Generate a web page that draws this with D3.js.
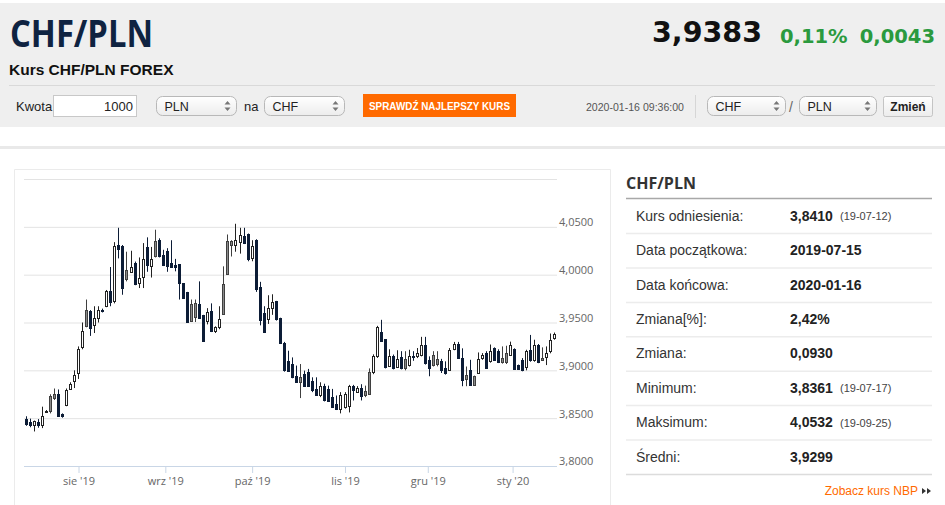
<!DOCTYPE html>
<html lang="pl">
<head>
<meta charset="utf-8">
<title>Kurs CHF/PLN FOREX</title>
<script src="https://cdn.jsdelivr.net/npm/d3@7"></script>
<style>
  html, body { margin: 0; padding: 0; background: #fff; }
  svg { display: block; }
</style>
</head>
<body>
<div id="chart-area"></div>
<script>
// DANE: notowania dzienne CHF/PLN
const START = "2019-07-15"
const END = "2020-01-16"
const HOLIDAYS = ["2019-12-25", "2020-01-01"]

const OPEN = [3.849, 3.8455, 3.843, 3.8465, 3.843, 3.8565, 3.873, 3.875, 3.875, 3.8545,
  3.8635, 3.880, 3.889, 3.897, 3.924, 3.963, 3.962, 3.947, 3.955, 3.9635,
  3.967, 3.983, 3.972, 4.031, 4.030, 4.005, 4.003, 4.012, 3.9915, 3.998,
  4.029, 4.0087, 4.035, 4.036, 4.021, 4.025, 4.012, 4.0105, 4.011, 3.991,
  3.982, 3.969, 3.970, 3.9695, 3.958, 3.952, 3.962, 3.941, 3.945, 3.990,
  4.035, 4.035, 4.0315, 4.034, 4.040, 4.042, 4.017, 4.036, 3.987, 3.960,
  3.9535, 3.9656, 3.9726, 3.955, 3.929, 3.910, 3.9066, 3.8945, 3.8927, 3.896,
  3.898, 3.889, 3.8806, 3.8737, 3.884, 3.8806, 3.872, 3.865, 3.860, 3.8616,
  3.863, 3.884, 3.877, 3.882, 3.878, 3.898, 3.898, 3.915, 3.9396, 3.9326,
  3.905, 3.9145, 3.904, 3.9135, 3.912, 3.906, 3.9152, 3.9146, 3.9163, 3.9267,
  3.911, 3.9163, 3.912, 3.9094, 3.9024, 3.9007, 3.922, 3.928, 3.913, 3.8955,
  3.900, 3.8938, 3.897, 3.9128, 3.918, 3.9094, 3.9232, 3.920, 3.9128, 3.918,
  3.9163, 3.9222, 3.9055, 3.911, 3.904, 3.9215, 3.911, 3.9267, 3.9125, 3.914,
  3.9198, 3.9337]
const HIGH = [3.852, 3.8495, 3.8475, 3.849, 3.862, 3.8585, 3.875, 3.881, 3.880, 3.855,
  3.881, 3.8875, 3.900, 3.925, 3.950, 3.974, 3.963, 3.967, 3.967, 3.9645,
  3.984, 4.008, 4.034, 4.049, 4.031, 4.024, 4.025, 4.0137, 4.018, 4.033,
  4.039, 4.029, 4.047, 4.038, 4.026, 4.0277, 4.036, 4.0165, 4.011, 3.991,
  3.982, 3.974, 3.974, 3.993, 3.958, 3.965, 3.970, 3.946, 3.967, 4.0087,
  4.042, 4.036, 4.0532, 4.049, 4.049, 4.043, 4.036, 4.037, 3.9925, 3.967,
  3.9785, 3.9795, 3.9726, 3.955, 3.9297, 3.9205, 3.9135, 3.905, 3.9066, 3.8997,
  3.9015, 3.8927, 3.8927, 3.8875, 3.886, 3.884, 3.8806, 3.8737, 3.8772, 3.8772,
  3.8848, 3.8848, 3.8835, 3.8855, 3.884, 3.902, 3.9167, 3.9465, 3.9528, 3.9326,
  3.922, 3.9165, 3.921, 3.920, 3.920, 3.9215, 3.920, 3.9233, 3.935, 3.935,
  3.9146, 3.920, 3.920, 3.912, 3.9094, 3.9233, 3.9297, 3.9297, 3.923, 3.904,
  3.911, 3.8945, 3.9187, 3.918, 3.920, 3.927, 3.924, 3.922, 3.925, 3.9257,
  3.930, 3.923, 3.906, 3.9128, 3.9215, 3.937, 3.932, 3.9275, 3.924, 3.925,
  3.9385, 3.9395]
const LOW = [3.842, 3.8405, 3.8361, 3.840, 3.8396, 3.8555, 3.855, 3.869, 3.8517, 3.8505,
  3.8625, 3.8795, 3.8815, 3.891, 3.922, 3.945, 3.936, 3.939, 3.950, 3.9605,
  3.966, 3.967, 3.970, 4.017, 3.979, 3.993, 4.002, 3.989, 3.986, 3.986,
  4.003, 3.997, 4.018, 4.018, 4.009, 4.003, 4.007, 4.0035, 3.974, 3.975,
  3.951, 3.9505, 3.9505, 3.954, 3.930, 3.948, 3.940, 3.939, 3.943, 3.958,
  4.000, 4.019, 4.024, 4.022, 4.032, 4.014, 4.014, 3.982, 3.947, 3.939,
  3.9485, 3.958, 3.952, 3.9275, 3.8986, 3.8986, 3.8917, 3.887, 3.871, 3.883,
  3.883, 3.8772, 3.8737, 3.872, 3.8675, 3.867, 3.8606, 3.8585, 3.855, 3.860,
  3.856, 3.8685, 3.8765, 3.8685, 3.872, 3.8746, 3.896, 3.913, 3.930, 3.902,
  3.904, 3.901, 3.9035, 3.901, 3.900, 3.904, 3.910, 3.9128, 3.9146, 3.906,
  3.8938, 3.904, 3.9042, 3.8972, 3.8955, 3.900, 3.921, 3.912, 3.8834, 3.8834,
  3.884, 3.8845, 3.8963, 3.911, 3.9014, 3.908, 3.910, 3.9076, 3.907, 3.9066,
  3.915, 3.9007, 3.9005, 3.899, 3.900, 3.909, 3.909, 3.9075, 3.910, 3.9055,
  3.9178, 3.932]
const CLOSE = [3.844, 3.843, 3.847, 3.843, 3.852, 3.858, 3.858, 3.871, 3.8525, 3.852,
  3.8795, 3.886, 3.8955, 3.9225, 3.941, 3.946, 3.944, 3.955, 3.963, 3.9615,
  3.983, 3.971, 4.0295, 4.027, 3.986, 3.995, 4.008, 3.990, 3.9965, 4.016,
  4.010, 4.016, 4.020, 4.019, 4.010, 4.009, 4.0085, 4.008, 3.991, 3.976,
  3.951, 3.952, 3.956, 3.955, 3.931, 3.961, 3.941, 3.945, 3.954, 3.959,
  4.0007, 4.0305, 4.036, 4.041, 4.033, 4.016, 4.030, 3.985, 3.953, 3.9396,
  3.9656, 3.971, 3.9535, 3.9285, 3.900, 3.8995, 3.8927, 3.8875, 3.8875, 3.884,
  3.8838, 3.879, 3.8744, 3.884, 3.8685, 3.868, 3.8616, 3.860, 3.8737, 3.8755,
  3.884, 3.879, 3.882, 3.873, 3.8737, 3.8754, 3.915, 3.945, 3.931, 3.903,
  3.915, 3.902, 3.912, 3.9024, 3.9025, 3.9146, 3.9143, 3.918, 3.9267, 3.9076,
  3.9024, 3.906, 3.907, 3.9007, 3.897, 3.9215, 3.928, 3.913, 3.890, 3.8905,
  3.885, 3.885, 3.9118, 3.9163, 3.9024, 3.920, 3.911, 3.909, 3.909, 3.9092,
  3.9267, 3.9014, 3.901, 3.9005, 3.920, 3.911, 3.9267, 3.9083, 3.911, 3.918,
  3.932, 3.9383]

const Y_TICKS = [3.80, 3.85, 3.90, 3.95, 4.00, 4.05, 4.10]
const MONTH_LABELS = ["sie '19", "wrz '19", "paź '19", "lis '19", "gru '19", "sty '20"]

const STAT_LABELS = ["Kurs odniesienia:", "Data początkowa:", "Data końcowa:", "Zmiana[%]:",
  "Zmiana:", "Minimum:", "Maksimum:", "Średni:"]
const STAT_VALUES = ["3,8410", "2019-07-15", "2020-01-16", "2,42%", "0,0930", "3,8361", "4,0532", "3,9299"]
const STAT_DATES = ["(19-07-12)", "", "", "", "", "(19-07-17)", "(19-09-25)", ""]

// WYMIARY
const W = 945, H = 505
const PLOT = { LEFT: 24, RIGHT: 557, TOP: 179, BOTTOM: 466 }
const FONT = "Arial, 'Liberation Sans', sans-serif"
const OPEN_SANS = "'Open Sans', sans-serif"

const svg = d3.select("#chart-area").append("svg")
  .attr("width", W)
  .attr("height", H)
  .style("font-family", FONT)

const defs = svg.append("defs")
const grad = defs.append("linearGradient").attr("id", "btn").attr("x1", 0).attr("y1", 0).attr("x2", 0).attr("y2", 1)
grad.append("stop").attr("offset", "0%").attr("stop-color", "#ffffff")
grad.append("stop").attr("offset", "100%").attr("stop-color", "#ececec")

// NAGŁÓWEK
svg.append("rect").attr("x", 0).attr("y", 3).attr("width", W).attr("height", 124).attr("fill", "#efefef")

svg.append("text")
  .attr("x", 10).attr("y", 47)
  .attr("font-family", OPEN_SANS).attr("font-weight", 700).attr("font-size", 38)
  .attr("textLength", 143).attr("lengthAdjust", "spacingAndGlyphs")
  .attr("fill", "#0f2341")
  .text("CHF/PLN")

svg.append("text")
  .attr("x", 9).attr("y", 75)
  .attr("font-weight", "bold").attr("font-size", 15.5)
  .attr("fill", "#111")
  .text("Kurs CHF/PLN FOREX")

svg.append("text")
  .attr("x", 762).attr("y", 42).attr("text-anchor", "end")
  .attr("font-family", "'DejaVu Sans', sans-serif").attr("font-weight", "bold").attr("font-size", 28.5)
  .attr("fill", "#111")
  .text("3,9383")

svg.append("text")
  .attr("x", 780).attr("y", 43)
  .attr("font-family", "'DejaVu Sans', sans-serif").attr("font-weight", "bold").attr("font-size", 19.5)
  .attr("fill", "#2b9a3e")
  .text("0,11%")

svg.append("text")
  .attr("x", 935).attr("y", 43).attr("text-anchor", "end")
  .attr("font-family", "'DejaVu Sans', sans-serif").attr("font-weight", "bold").attr("font-size", 19.5)
  .attr("fill", "#2b9a3e")
  .text("0,0043")

svg.append("line")
  .attr("x1", 9).attr("x2", 935).attr("y1", 85.5).attr("y2", 85.5)
  .attr("stroke", "#d9d9d9")

// PASEK FORMULARZA
svg.append("text").attr("x", 16).attr("y", 111).attr("font-size", 13).attr("fill", "#222").text("Kwota")
svg.append("rect")
  .attr("x", 53.5).attr("y", 95.5).attr("width", 83).attr("height", 21)
  .attr("fill", "#fff").attr("stroke", "#c8c8c8")
svg.append("text").attr("x", 133).attr("y", 111).attr("text-anchor", "end")
  .attr("font-size", 13).attr("fill", "#222").text("1000")

const select = (x, w, label) => {
  const g = svg.append("g").attr("transform", `translate(${x}, 96.5)`)
  g.append("rect").attr("width", w).attr("height", 19).attr("rx", 6)
    .attr("fill", "url(#btn)").attr("stroke", "#b8b8b8")
  g.append("text").attr("x", 8).attr("y", 14).attr("font-size", 12.5).attr("fill", "#222").text(label)
  g.append("path").attr("d", `M${w - 12},8 l3,-3.5 l3,3.5 Z M${w - 12},11 l3,3.5 l3,-3.5 Z`)
    .attr("fill", "#777")
}
select(156.5, 80, "PLN")
svg.append("text").attr("x", 244).attr("y", 111).attr("font-size", 13).attr("fill", "#222").text("na")
select(264.5, 80, "CHF")

svg.append("rect").attr("x", 363).attr("y", 94).attr("width", 153).attr("height", 23).attr("fill", "#ff6a00")
svg.append("text")
  .attr("x", 439.5).attr("y", 109.5).attr("text-anchor", "middle")
  .attr("font-weight", "bold").attr("font-size", 11)
  .attr("textLength", 141).attr("lengthAdjust", "spacingAndGlyphs")
  .attr("fill", "#fff")
  .text("SPRAWDŹ NAJLEPSZY KURS")

svg.append("text")
  .attr("x", 586).attr("y", 110.5)
  .attr("font-size", 11).attr("textLength", 98).attr("lengthAdjust", "spacingAndGlyphs")
  .attr("fill", "#555")
  .text("2020-01-16 09:36:00")
svg.append("line").attr("x1", 695.5).attr("x2", 695.5).attr("y1", 95).attr("y2", 118).attr("stroke", "#d6d6d6")

select(707.5, 78, "CHF")
svg.append("text").attr("x", 789).attr("y", 112).attr("font-size", 14).attr("fill", "#666").text("/")
select(799.5, 77, "PLN")

svg.append("rect")
  .attr("x", 883.5).attr("y", 96.5).attr("width", 49).attr("height", 20).attr("rx", 2)
  .attr("fill", "url(#btn)").attr("stroke", "#c4c4c4")
svg.append("text").attr("x", 908).attr("y", 111).attr("text-anchor", "middle")
  .attr("font-weight", "bold").attr("font-size", 12).attr("fill", "#222").text("Zmień")

// KARTA Z WYKRESEM
svg.append("rect").attr("x", 0).attr("y", 146).attr("width", W).attr("height", 3).attr("fill", "#e9e9e9")
svg.append("path")
  .attr("d", `M14.5,${H} V169.5 H610.5 V${H}`)
  .attr("fill", "none").attr("stroke", "#ebebeb")

// SKALE
const parse = d3.utcParse("%Y-%m-%d")
const fmt = d3.utcFormat("%Y-%m-%d")
const days = d3.utcDays(parse(START), d3.utcDay.offset(parse(END), 1))
  .filter(d => d.getUTCDay() % 6 !== 0 && !HOLIDAYS.includes(fmt(d)))

const data = days.map((d, i) => ({
  i, date: d,
  open: OPEN[i], high: HIGH[i], low: LOW[i], close: CLOSE[i],
  prev: i > 0 ? CLOSE[i - 1] : null
}))

const x = d3.scaleLinear()
  .domain([-0.5, days.length - 0.5])
  .range([PLOT.LEFT, PLOT.RIGHT])

const y = d3.scaleLinear()
  .domain([Y_TICKS[0], Y_TICKS[Y_TICKS.length - 1]])
  .range([PLOT.BOTTOM, PLOT.TOP])

// tick na początek miesiąca; gdy 1. dzień nie jest sesją, pół świecy wcześniej
const monthIdx = d3.utcMonths(d3.utcMonth.ceil(parse(START)), parse(END)).map(m => {
  const k = days.findIndex(d => d >= m)
  return +days[k] === +m ? k : k - 0.5
})

// SIATKA I OŚ Y (po prawej)
const yAxis = d3.axisRight(y)
  .tickValues(Y_TICKS)
  .tickSize(-(PLOT.RIGHT - PLOT.LEFT))
  .tickPadding(2)
  .tickFormat(v => v === Y_TICKS[Y_TICKS.length - 1] ? "" : d3.format(".4f")(v).replace(".", ","))

const yG = svg.append("g")
  .attr("transform", `translate(${PLOT.RIGHT}, 0)`)
  .call(yAxis)
yG.select(".domain").remove()
yG.selectAll("line").attr("stroke", "#e3e3e3")
yG.selectAll("text")
  .attr("dy", "-0.1em")
  .attr("font-family", OPEN_SANS).attr("font-size", 11).attr("fill", "#666")

// OŚ X
const xAxis = d3.axisBottom(x)
  .tickValues(monthIdx)
  .tickSize(7)
  .tickPadding(4)
  .tickFormat((d, k) => MONTH_LABELS[k])

const xG = svg.append("g")
  .attr("transform", `translate(0, ${PLOT.BOTTOM})`)
  .call(xAxis)
xG.select(".domain").attr("stroke", "#c9d6e6").attr("d", `M${PLOT.LEFT},0.5H${PLOT.RIGHT}`)
xG.selectAll("line").attr("stroke", "#c9d6e6")
xG.selectAll("text")
  .attr("font-family", OPEN_SANS).attr("font-size", 11).attr("fill", "#666")

// ŚWIECE
const kind = d => d.close >= d.open ? "up" : (d.prev !== null && d.close >= d.prev ? "mid" : "down")
const FILL = { up: "#ffffff", mid: "#8a8a8a", down: "#0c1c36" }
const STROKE = { up: "#222", mid: "#3f3f3f", down: "#0c1c36" }
const px = d => Math.floor(x(d.i))

const candle = svg.append("g").selectAll("g")
  .data(data)
  .join("g")

candle.append("line")
  .attr("x1", d => px(d) + 0.5)
  .attr("x2", d => px(d) + 0.5)
  .attr("y1", d => y(d.high))
  .attr("y2", d => y(d.low))
  .attr("stroke", d => STROKE[kind(d)])

candle.append("rect")
  .attr("x", d => px(d) - 0.5)
  .attr("width", 2)
  .attr("y", d => Math.round(y(Math.max(d.open, d.close))) + 0.5)
  .attr("height", d => Math.max(1, Math.round(y(Math.min(d.open, d.close))) - Math.round(y(Math.max(d.open, d.close)))))
  .attr("fill", d => FILL[kind(d)])
  .attr("stroke", d => STROKE[kind(d)])

// TABELA STATYSTYK
svg.append("text")
  .attr("x", 626).attr("y", 188.5)
  .attr("font-family", OPEN_SANS).attr("font-weight", "bold").attr("font-size", 16)
  .attr("fill", "#333")
  .text("CHF/PLN")
svg.append("line").attr("x1", 626).attr("x2", 932).attr("y1", 198.5).attr("y2", 198.5)
  .attr("stroke", "#a8a8a8").attr("stroke-width", 1.5)

const ROW = 34.4, ROW0 = 198.7
const rows = svg.append("g").selectAll("g")
  .data(STAT_LABELS)
  .join("g")
  .attr("transform", (d, k) => `translate(0, ${ROW0 + ROW * k})`)

rows.append("line")
  .attr("x1", 626).attr("x2", 932)
  .attr("y1", ROW + 0.5).attr("y2", ROW + 0.5)
  .attr("stroke", (d, k) => k === STAT_LABELS.length - 1 ? "#dcdcdc" : "#ececec")
  .attr("stroke-width", 1.5)
rows.append("text")
  .attr("x", 636).attr("y", ROW / 2 + 5)
  .attr("font-size", 14).attr("fill", "#333")
  .text(d => d)
rows.append("text")
  .attr("x", 790).attr("y", ROW / 2 + 5)
  .attr("font-size", 14).attr("font-weight", "bold").attr("fill", "#222")
  .text((d, k) => STAT_VALUES[k])
rows.append("text")
  .attr("x", 840).attr("y", ROW / 2 + 4.5)
  .attr("font-size", 11).attr("fill", "#444")
  .text((d, k) => STAT_DATES[k])

svg.append("text")
  .attr("x", 918).attr("y", 495).attr("text-anchor", "end")
  .attr("font-size", 12).attr("fill", "#ff6a00")
  .text("Zobacz kurs NBP")
svg.append("path")
  .attr("d", "M922,488 l4,3 l-4,3 Z M927,488 l4,3 l-4,3 Z")
  .attr("fill", "#333")
</script>
</body>
</html>
